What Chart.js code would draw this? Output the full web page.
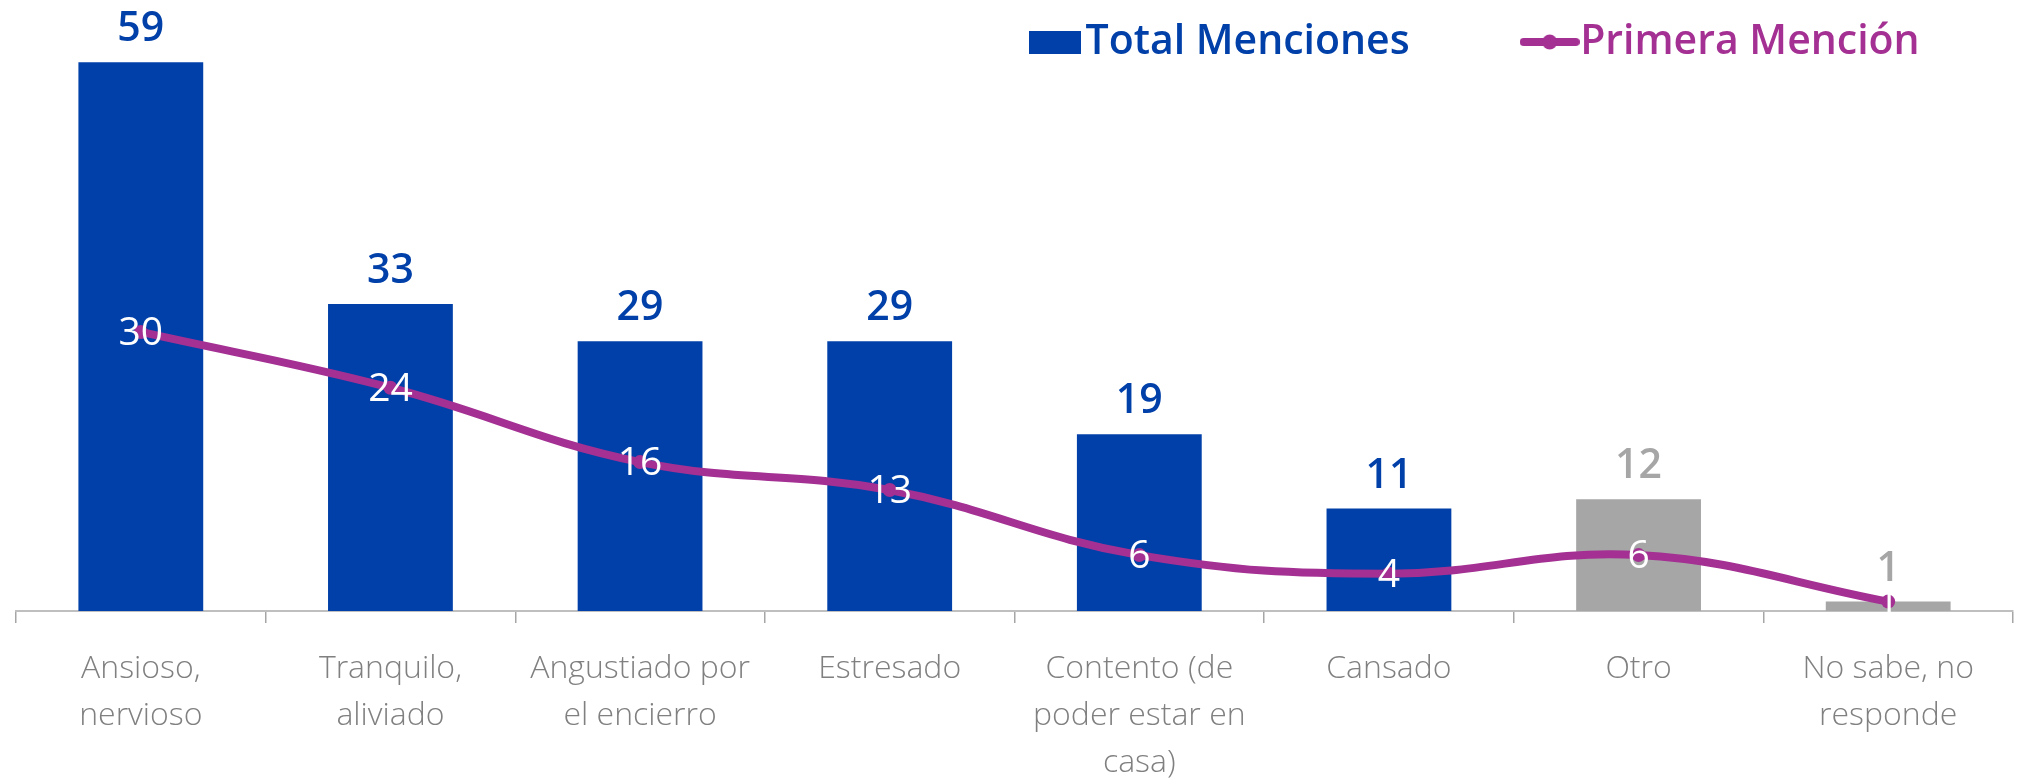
<!DOCTYPE html>
<html>
<head>
<meta charset="utf-8">
<script src="https://cdn.jsdelivr.net/npm/chart.js@4/dist/chart.umd.min.js"></script>
<style>
  html, body { margin: 0; padding: 0; background: #fff; }
  #wrap { width: 2020px; height: 782px; position: relative; }
</style>
</head>
<body>
<div id="wrap"><canvas id="chart"></canvas></div>
<script>
const categories = [
    ['Ansioso,', 'nervioso'],
    ['Tranquilo,', 'aliviado'],
    ['Angustiado por', 'el encierro'],
    ['Estresado'],
    ['Contento (de', 'poder estar en', 'casa)'],
    ['Cansado'],
    ['Otro'],
    ['No sabe, no', 'responde']
];
const totalMenciones = [59, 33, 29, 29, 19, 11, 12, 1];
const primeraMencion = [30, 24, 16, 13, 6, 4, 6, 1];

const seriesNames = ['Total Menciones', 'Primera Mención'];

const blue = '#0040A8';
const grey = '#A6A6A6';
const purple = '#A33092';
const barColors = [blue, blue, blue, blue, blue, blue, grey, grey];

// legend markers drawn as small images
function makeMarker(w, h, draw) {
    const c = document.createElement('canvas');
    c.width = w;
    c.height = h;
    draw(c.getContext('2d'));
    return c;
}
const barMarker = makeMarker(52, 23, ctx => {
    ctx.fillStyle = blue;
    ctx.fillRect(0, 0, 52, 23);
});
const lineMarker = makeMarker(60, 16, ctx => {
    ctx.strokeStyle = purple;
    ctx.lineWidth = 8;
    ctx.lineCap = 'round';
    ctx.beginPath();
    ctx.moveTo(4, 8);
    ctx.lineTo(56, 8);
    ctx.stroke();
    ctx.fillStyle = purple;
    ctx.beginPath();
    ctx.arc(30, 8, 7.5, 0, Math.PI * 2);
    ctx.fill();
});

const legendLeft = 1045;
const legendMid = 42;

// move the legend row to where it sits in the original (top right, over the plot)
const legendPlacer = {
    id: 'legendPlacer',
    afterLayout(chart) {
        const lg = chart.legend;
        const pad = lg.options.labels.padding;
        const w = lg.right - lg.left;
        const h = lg._itemHeight || lg.options.labels.font.size;
        lg.left = legendLeft - pad;
        lg.right = lg.left + w;
        lg.top = legendMid - pad - h / 2;
        lg.bottom = legendMid + h; // legend is clipped to its box
    }
};

const valueLabels = {
    id: 'valueLabels',
    afterDatasetsDraw(chart) {
        const ctx = chart.ctx;
        ctx.save();
        ctx.textAlign = 'center';

        const bars = chart.getDatasetMeta(0).data;
        ctx.font = '600 41px "Open Sans"';
        ctx.textBaseline = 'alphabetic';
        bars.forEach((el, i) => {
            ctx.fillStyle = barColors[i];
            ctx.fillText(String(totalMenciones[i]), el.x, el.y - 21);
        });

        const pts = chart.getDatasetMeta(1).data;
        ctx.font = '500 39px "Open Sans"';
        ctx.textBaseline = 'middle';
        ctx.fillStyle = '#ffffff';
        pts.forEach((el, i) => {
            ctx.fillText(String(primeraMencion[i]), el.x, el.y + 2);
        });
        ctx.restore();
    }
};

new Chart(document.getElementById('chart'), {
    type: 'bar',
    data: {
        labels: categories,
        datasets: [
            {
                type: 'bar',
                label: seriesNames[0],
                data: totalMenciones,
                backgroundColor: barColors,
                barPercentage: 0.5,
                categoryPercentage: 1,
                order: 2
            },
            {
                type: 'line',
                label: seriesNames[1],
                data: primeraMencion,
                borderColor: purple,
                backgroundColor: purple,
                borderWidth: 8,
                pointRadius: 7,
                pointBorderWidth: 0,
                tension: 0.4,
                fill: false,
                order: 1
            }
        ]
    },
    options: {
        responsive: true,
        maintainAspectRatio: false,
        devicePixelRatio: 1,
        animation: false,
        layout: {padding: {top: 0, left: 16, right: 0, bottom: -26}},
        plugins: {
            tooltip: {enabled: false},
            legend: {
                display: true,
                position: 'top',
                align: 'start',
                maxHeight: 53,
                labels: {
                    usePointStyle: true,
                    pointStyleWidth: 20,
                    padding: 130,
                    font: {family: '"Open Sans"', size: 41, weight: 600},
                    generateLabels: () => [
                        {text: seriesNames[0], fontColor: blue, pointStyle: barMarker, fillStyle: blue, strokeStyle: blue, lineWidth: 0, hidden: false, datasetIndex: 0},
                        {text: seriesNames[1], fontColor: purple, pointStyle: lineMarker, fillStyle: purple, strokeStyle: purple, lineWidth: 0, hidden: false, datasetIndex: 1}
                    ]
                }
            }
        },
        scales: {
            x: {
                grid: {
                    display: true,
                    drawOnChartArea: false,
                    drawTicks: true,
                    tickLength: 12,
                    offset: true,
                    color: '#A6A6A6',
                    lineWidth: 1.5
                },
                border: {display: true, color: '#BFBFBF', width: 2},
                ticks: {
                    color: '#808080',
                    autoSkip: false,
                    maxRotation: 0,
                    padding: 22,
                    font: {family: '"Open Sans"', size: 32, weight: 300, lineHeight: 1.47}
                }
            },
            y: {
                display: false,
                min: 0,
                max: 60
            }
        }
    },
    plugins: [legendPlacer, valueLabels]
});
</script>
</body>
</html>
